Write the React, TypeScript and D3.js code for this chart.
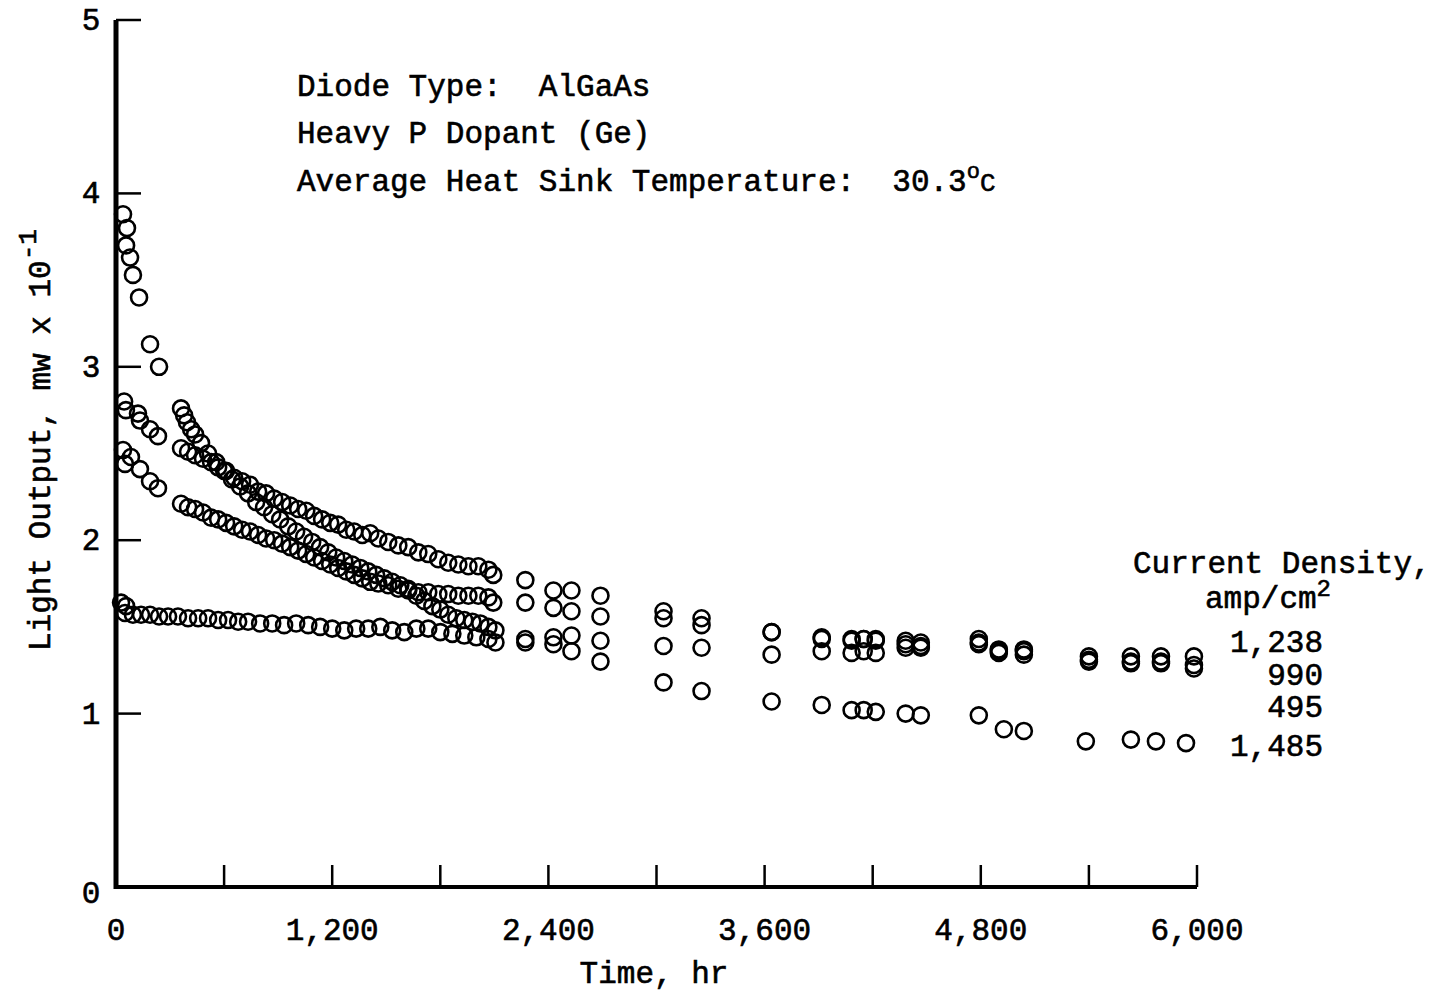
import React from "react";
import * as d3 from "d3";

// ---- Data (Time in hr, Light output in mW x 10^-1) ----
const hours1238 = [45, 55, 122, 133, 189, 233, 361, 400, 439, 483, 528, 567, 611, 656, 700, 744, 789, 833, 878, 922, 967, 1011, 1056, 1100, 1144, 1189, 1233, 1278, 1322, 1367, 1411, 1456, 1511, 1567, 1622, 1678, 1733, 1789, 1844, 1900, 1956, 2011, 2067, 2094, 2272, 2428, 2528, 2689, 3039, 3250, 3639, 3917, 4083, 4150, 4217, 4383, 4467, 4789, 4900, 5039, 5400, 5633, 5800, 5983];
const light1238 = [2.80, 2.75, 2.73, 2.69, 2.64, 2.60, 2.53, 2.51, 2.49, 2.47, 2.45, 2.42, 2.40, 2.36, 2.34, 2.32, 2.28, 2.27, 2.24, 2.22, 2.20, 2.18, 2.17, 2.14, 2.12, 2.10, 2.09, 2.06, 2.05, 2.03, 2.04, 2.01, 1.99, 1.97, 1.96, 1.93, 1.92, 1.89, 1.87, 1.86, 1.85, 1.85, 1.83, 1.80, 1.77, 1.71, 1.71, 1.68, 1.59, 1.55, 1.47, 1.44, 1.43, 1.43, 1.43, 1.42, 1.41, 1.43, 1.37, 1.37, 1.33, 1.33, 1.33, 1.33];

const hours990 = [39, 50, 83, 133, 189, 233, 361, 400, 439, 483, 528, 567, 611, 656, 700, 744, 789, 833, 878, 922, 967, 1011, 1056, 1100, 1144, 1189, 1233, 1278, 1322, 1367, 1411, 1456, 1511, 1567, 1622, 1678, 1733, 1789, 1844, 1900, 1956, 2011, 2067, 2094, 2272, 2428, 2528, 2689, 3039, 3250, 3639, 3917, 4083, 4150, 4217, 4383, 4467, 4789, 4900, 5039, 5400, 5633, 5800, 5983];
const light990 = [2.52, 2.44, 2.48, 2.41, 2.34, 2.30, 2.21, 2.19, 2.18, 2.16, 2.13, 2.12, 2.10, 2.08, 2.06, 2.05, 2.03, 2.01, 2.00, 1.98, 1.96, 1.94, 1.92, 1.90, 1.88, 1.86, 1.84, 1.82, 1.80, 1.78, 1.76, 1.75, 1.74, 1.72, 1.71, 1.70, 1.70, 1.69, 1.69, 1.68, 1.68, 1.68, 1.67, 1.64, 1.64, 1.61, 1.59, 1.56, 1.55, 1.51, 1.47, 1.43, 1.42, 1.43, 1.42, 1.40, 1.39, 1.41, 1.36, 1.36, 1.31, 1.30, 1.30, 1.28];

const hours495 = [28, 56, 50, 94, 139, 189, 239, 289, 344, 400, 456, 511, 567, 622, 678, 733, 800, 867, 933, 1000, 1067, 1133, 1200, 1267, 1333, 1400, 1467, 1533, 1600, 1667, 1733, 1800, 1867, 1933, 2000, 2067, 2106, 2272, 2428, 2528, 2689, 3039, 3250, 3639, 3917, 4083, 4150, 4217, 4383, 4467, 4789, 4900, 5039, 5400, 5633, 5800, 5983];
const light495 = [1.64, 1.62, 1.58, 1.57, 1.57, 1.57, 1.56, 1.56, 1.56, 1.55, 1.55, 1.55, 1.54, 1.54, 1.53, 1.53, 1.52, 1.52, 1.51, 1.52, 1.51, 1.50, 1.49, 1.48, 1.49, 1.49, 1.50, 1.48, 1.47, 1.49, 1.49, 1.47, 1.46, 1.45, 1.44, 1.43, 1.41, 1.43, 1.44, 1.45, 1.42, 1.39, 1.38, 1.34, 1.36, 1.35, 1.36, 1.35, 1.38, 1.38, 1.40, 1.35, 1.34, 1.30, 1.29, 1.29, 1.26];

const hours1485 = [39, 56, 61, 78, 94, 128, 189, 239, 361, 378, 394, 417, 439, 472, 511, 556, 600, 644, 689, 733, 778, 822, 867, 911, 956, 1000, 1044, 1089, 1133, 1178, 1222, 1267, 1311, 1356, 1400, 1444, 1489, 1533, 1578, 1622, 1667, 1711, 1756, 1800, 1844, 1889, 1933, 1978, 2022, 2067, 2106, 2272, 2428, 2528, 2689, 3039, 3250, 3639, 3917, 4083, 4150, 4217, 4383, 4467, 4789, 4928, 5039, 5383, 5633, 5772, 5939];
const light1485 = [3.88, 3.70, 3.80, 3.63, 3.53, 3.40, 3.13, 3.00, 2.76, 2.72, 2.68, 2.64, 2.61, 2.56, 2.50, 2.45, 2.40, 2.35, 2.31, 2.27, 2.22, 2.19, 2.15, 2.12, 2.08, 2.05, 2.02, 1.99, 1.96, 1.93, 1.90, 1.88, 1.86, 1.84, 1.82, 1.80, 1.78, 1.76, 1.74, 1.72, 1.68, 1.65, 1.62, 1.60, 1.57, 1.55, 1.54, 1.53, 1.52, 1.50, 1.48, 1.41, 1.40, 1.36, 1.30, 1.18, 1.13, 1.07, 1.05, 1.02, 1.02, 1.01, 1.00, 0.99, 0.99, 0.91, 0.90, 0.84, 0.85, 0.84, 0.83];

const seriesNames = ["1,238", "990", "495", "1,485"];
const xTickValues = [0, 600, 1200, 1800, 2400, 3000, 3600, 4200, 4800, 5400, 6000];
const xLabelValues = [0, 1200, 2400, 3600, 4800, 6000];
const yTickValues = [0, 1, 2, 3, 4, 5];
const infoLines = ["Diode Type:  AlGaAs", "Heavy P Dopant (Ge)"];

const FONT = "'Liberation Mono', 'Courier New', monospace";

export default function App() {
  const W = 1444;
  const H = 994;
  const x = d3.scaleLinear().domain([0, 6000]).range([116, 1197]);
  const y = d3.scaleLinear().domain([0, 5]).range([887, 20]);
  const fmt = d3.format(",");

  const series = [
    { name: seriesNames[0], t: hours1238, v: light1238 },
    { name: seriesNames[1], t: hours990, v: light990 },
    { name: seriesNames[2], t: hours495, v: light495 },
    { name: seriesNames[3], t: hours1485, v: light1485 },
  ];

  const textStyle = {
    fontFamily: FONT,
    fontSize: 31,
    fill: "#000",
    stroke: "#000",
    strokeWidth: 0.6,
  } as React.CSSProperties;

  return (
    <svg
      width={W}
      height={H}
      viewBox={`0 0 ${W} ${H}`}
      style={{ position: "absolute", left: 0, top: 0, background: "#fff" }}
    >
      <rect x={0} y={0} width={W} height={H} fill="#fff" />

      {/* markers */}
      <g fill="none" stroke="#000" strokeWidth={2.6}>
        {series.map((s) =>
          s.t.map((t, i) => (
            <circle key={s.name + "-" + i} cx={x(t)} cy={y(s.v[i])} r={8} />
          ))
        )}
      </g>

      {/* axes */}
      <line x1={x(0)} x2={x(0)} y1={y(5)} y2={y(0) + 2} stroke="#000" strokeWidth={5} />
      <line x1={x(0) - 2} x2={x(6000)} y1={y(0)} y2={y(0)} stroke="#000" strokeWidth={4} />
      {yTickValues.slice(1).map((v) => (
        <line key={"yt" + v} x1={x(0)} x2={x(0) + 25} y1={y(v)} y2={y(v)} stroke="#000" strokeWidth={2.5} />
      ))}
      {xTickValues.slice(1).map((t) => (
        <line key={"xt" + t} x1={x(t)} x2={x(t)} y1={y(0)} y2={y(0) - 22} stroke="#000" strokeWidth={2.5} />
      ))}

      {/* y tick labels */}
      {yTickValues.map((v) => (
        <text key={"yl" + v} x={91} y={y(v) + (v === 0 ? 16 : 10)} textAnchor="middle" style={textStyle} fontSize={28}>
          {v}
        </text>
      ))}
      {/* x tick labels */}
      {xLabelValues.map((t) => (
        <text key={"xl" + t} x={x(t)} y={940} textAnchor="middle" style={textStyle}>
          {fmt(t)}
        </text>
      ))}

      {/* axis titles */}
      <text x={654} y={983} textAnchor="middle" style={textStyle}>
        Time, hr
      </text>
      <text transform="translate(50,440) rotate(-90)" textAnchor="middle" style={textStyle}>
        Light Output, mw x 10
        <tspan dy={-14} fontSize={26}>-1</tspan>
      </text>

      {/* annotation */}
      {infoLines.map((l, i) => (
        <text key={"info" + i} x={297} y={96 + i * 47} style={textStyle} xmlSpace="preserve">
          {l}
        </text>
      ))}
      <text x={297} y={191} style={textStyle} xmlSpace="preserve">
        {"Average Heat Sink Temperature:  30.3"}
        <tspan dy={-13} fontSize={22}>o</tspan>
        <tspan dy={13} fontSize={26}>C</tspan>
      </text>

      {/* legend */}
      <text x={1133} y={573} style={textStyle}>
        Current Density,
      </text>
      <text x={1268} y={608} textAnchor="middle" style={textStyle}>
        amp/cm
        <tspan dy={-12} fontSize={24}>2</tspan>
      </text>
      {series.map((s, i) => (
        <text key={"leg" + i} x={1323} y={[652, 685, 717, 756][i]} textAnchor="end" style={textStyle}>
          {s.name}
        </text>
      ))}
    </svg>
  );
}
